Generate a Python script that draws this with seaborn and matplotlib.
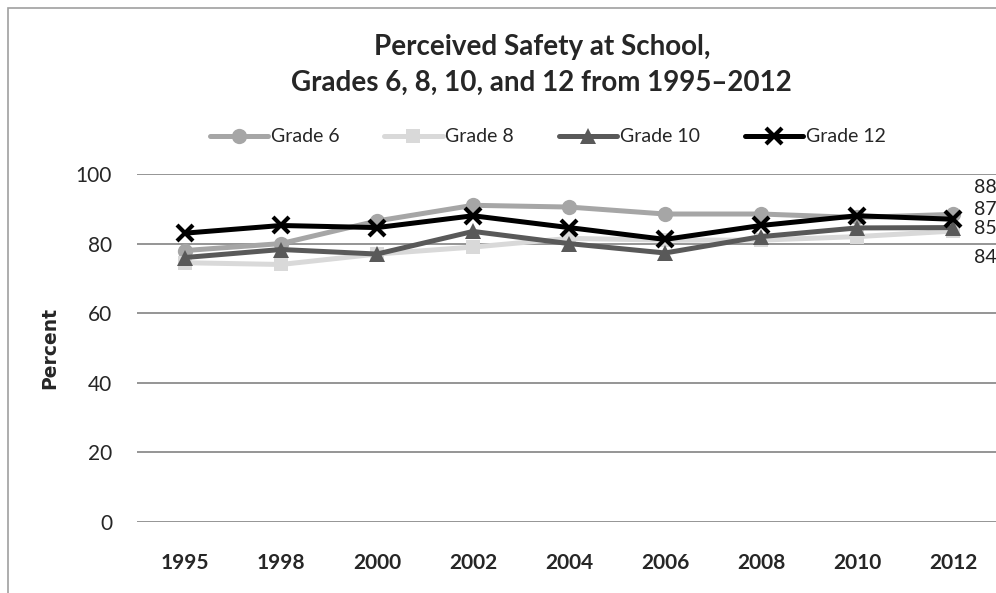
import numpy as np
import pandas as pd
import matplotlib as mpl
import matplotlib.pyplot as plt
import seaborn as sns
from matplotlib.patches import Rectangle
from matplotlib.lines import Line2D

years = ['1995', '1998', '2000', '2002', '2004', '2006', '2008', '2010', '2012']
grade6 = [78, 80, 86.5, 91, 90.5, 88.5, 88.5, 87.5, 88.4]
grade8 = [74.5, 74, 77, 79, 81.5, 81, 81, 82, 83.6]
grade10 = [76, 78.3, 77, 83.5, 80, 77.3, 82, 84.5, 84.6]
grade12 = [83, 85.2, 84.6, 88, 84.6, 81.2, 85.2, 88, 87]
end_labels = ['88', '84', '85', '87']

grades = ['Grade 6', 'Grade 8', 'Grade 10', 'Grade 12']
series = [grade6, grade8, grade10, grade12]

df = pd.DataFrame({'Year': years * 4,
                   'Percent': grade6 + grade8 + grade10 + grade12,
                   'Grade': np.repeat(grades, len(years))})

sns.set_style("white")
plt.rcParams['font.family'] = ['Lato', 'DejaVu Sans']

colors = {'Grade 6': '#a6a6a6', 'Grade 8': '#d9d9d9', 'Grade 10': '#595959', 'Grade 12': '#000000'}
marks = {'Grade 6': 'o', 'Grade 8': 's', 'Grade 10': '^', 'Grade 12': 'x'}
msize = {'Grade 6': 11, 'Grade 8': 10, 'Grade 10': 12, 'Grade 12': 11}
# label nudges (points) so the end labels do not collide, like in the original
nudge = {'Grade 6': 19, 'Grade 8': -19, 'Grade 10': -1, 'Grade 12': 7}

fig = plt.figure(figsize=(9.96, 5.93), dpi=100)
ax = fig.add_axes([0.1376, 0.1197, 0.8674, 0.5869])

# chart border
fig.patches.append(Rectangle((8 / 996, -0.1), 1.2, 1 - 8 / 593 + 0.1, transform=fig.transFigure,
                             fill=False, edgecolor='#a0a0a0', lw=1.2))

legend_handles = []
for g, vals in zip(grades, series):
    sub = df[df['Grade'] == g]
    kw = dict(marker=marks[g], markersize=msize[g],
              markeredgecolor=colors[g], markerfacecolor=colors[g])
    kw['markeredgewidth'] = 3 if g == 'Grade 12' else 0
    sns.lineplot(data=sub, x='Year', y='Percent', color=colors[g], lw=3.6, ax=ax,
                 sort=False, legend=False, **kw)
    legend_handles.append(Line2D([], [], color=colors[g], lw=3.6, **kw))

for g, vals, lab in zip(grades, series, end_labels):
    ax.annotate(lab, (len(years) - 1, vals[-1]), xytext=(15, nudge[g]), textcoords='offset points',
                ha='left', va='center', fontsize=14, color='#222222', annotation_clip=False)

ax.set_xlim(-0.5, len(years) - 0.5)
ax.set_ylim(0, 100)
ax.set_yticks([0, 20, 40, 60, 80, 100])
ax.yaxis.grid(True, color='#8c8c8c', lw=1.3)
ax.set_axisbelow(True)
for s in ax.spines.values():
    s.set_visible(False)
ax.tick_params(axis='both', length=0)
ax.tick_params(axis='y', pad=18, labelsize=15)
ax.tick_params(axis='x', pad=22, labelsize=15)
for t in ax.get_xticklabels():
    t.set_fontweight('bold')
ax.set_xlabel('')
ax.set_ylabel('Percent', fontsize=13.5, fontweight='bold', family='DejaVu Sans', labelpad=12)

fig.text(0.544, 1 - 47 / 593, 'Perceived Safety at School,', ha='center', va='center',
         fontsize=20, fontweight='bold')
fig.text(0.544, 1 - 83 / 593, 'Grades 6, 8, 10, and 12 from 1995\u20132012', ha='center', va='center',
         fontsize=20, fontweight='bold')

fig.legend(legend_handles, grades, loc='center', bbox_to_anchor=(0.55, 1 - 137 / 593), ncol=4,
           frameon=False, fontsize=14, handlelength=3.0, handletextpad=0.15, columnspacing=2.3)

fig.savefig('out.png', dpi=100)
